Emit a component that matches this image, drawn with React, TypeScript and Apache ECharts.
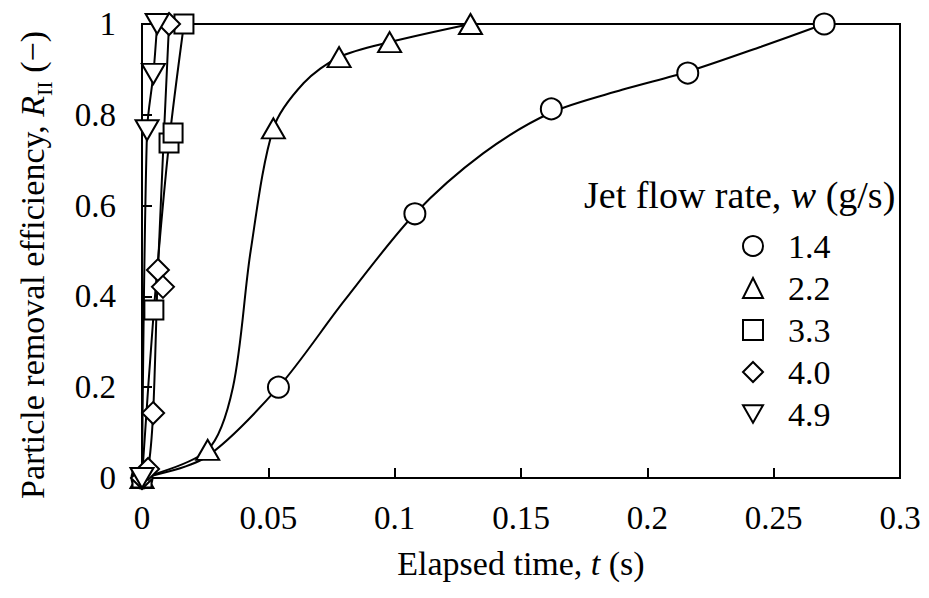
import React, { useEffect, useRef } from 'react';
import * as echarts from 'echarts';

// Jet flow rate w (g/s) series names
const SERIES_NAMES = ['1.4', '2.2', '3.3', '4.0', '4.9'];
// [t (s), R_II (-)] measured points
const W14: number[][] = [[0, 0], [0.054, 0.2], [0.108, 0.582], [0.162, 0.813], [0.216, 0.892], [0.27, 1.0]];
const W22: number[][] = [[0, 0], [0.026, 0.062], [0.052, 0.77], [0.078, 0.927], [0.098, 0.96], [0.13, 1.0]];
const W33: number[][] = [[0, 0], [0.0047, 0.37], [0.0107, 0.738], [0.0123, 0.76], [0.0166, 1.0]];
const W40: number[][] = [[0, 0], [0.0024, 0.02], [0.0044, 0.143], [0.0063, 0.458], [0.0083, 0.421], [0.0107, 1.0]];
const W49: number[][] = [[0, 0], [0.002, 0.766], [0.0045, 0.89], [0.006, 1.0]];
// fitted curves drawn through the points
const FIT14: number[][] = [[0, 0], [0.025, 0.045], [0.054, 0.2], [0.08, 0.39], [0.108, 0.582], [0.135, 0.715], [0.162, 0.805], [0.19, 0.855], [0.216, 0.895], [0.245, 0.95], [0.27, 1.0]];
const FIT22: number[][] = [[0, 0], [0.026, 0.062], [0.036, 0.2], [0.043, 0.5], [0.052, 0.77], [0.064, 0.87], [0.078, 0.927], [0.098, 0.96], [0.13, 1.0]];
const FIT33: number[][] = [[0, 0], [0.0047, 0.37], [0.0107, 0.738], [0.0166, 1.0]];
const FIT40: number[][] = [[0, 0], [0.0024, 0.02], [0.0044, 0.143], [0.0063, 0.458], [0.0107, 1.0]];
const FIT49 = W49;

const X_MIN = 0, X_MAX = 0.3, X_STEP = 0.05;
const Y_MIN = 0, Y_MAX = 1, Y_STEP = 0.2;

const FONT = 'Liberation Serif, Tinos, Times New Roman, serif';
const FS = 34;
const DOWN_TRI = 'path://M0,0 L2,0 L1,1.732 Z';

export default function App() {
  const ref = useRef<HTMLDivElement>(null);
  useEffect(() => {
    if (!ref.current) return;
    const chart = echarts.init(ref.current, undefined, { renderer: 'svg' });
    const pts = [W14, W22, W33, W40, W49];
    const fits = [FIT14, FIT22, FIT33, FIT40, FIT49];
    const symbols = ['circle', 'triangle', 'rect', 'diamond', DOWN_TRI];
    const sizes: any[] = [21, [23, 20], 19, [22, 22], [23, 20]];
    const lineSeries = fits.map((d) => ({
      type: 'line',
      data: d,
      smooth: 0.3,
      showSymbol: false,
      silent: true,
      lineStyle: { color: '#000', width: 2 },
      z: 2,
    }));
    const scatterSeries = pts.map((d, i) => ({
      type: 'scatter',
      name: SERIES_NAMES[i],
      data: d,
      symbol: symbols[i],
      symbolSize: sizes[i],
      itemStyle: { color: '#fff', borderColor: '#000', borderWidth: 2, opacity: 1 },
      z: 3,
    }));
    chart.setOption({
      animation: false,
      backgroundColor: '#fff',
      textStyle: { fontFamily: FONT },
      grid: { left: 142, top: 24, right: 29, bottom: 120, show: true, borderColor: '#000', borderWidth: 2, backgroundColor: 'transparent' },
      xAxis: {
        type: 'value', min: X_MIN, max: X_MAX, interval: X_STEP,
        name: '{a|Elapsed time, }{i|t}{a| (s)}',
        nameLocation: 'middle', nameGap: 68,
        nameTextStyle: { rich: { a: { fontFamily: FONT, fontSize: FS, color: '#000' }, i: { fontFamily: FONT, fontSize: FS, fontStyle: 'italic', color: '#000' } } },
        axisLine: { lineStyle: { color: '#000', width: 2 } },
        axisTick: { inside: true, length: 10, lineStyle: { color: '#000', width: 2 } },
        axisLabel: { color: '#000', fontFamily: FONT, fontSize: 33, margin: 23 },
        splitLine: { show: false },
      },
      yAxis: {
        type: 'value', min: Y_MIN, max: Y_MAX, interval: Y_STEP,
        axisLine: { lineStyle: { color: '#000', width: 2 } },
        axisTick: { inside: true, length: 10, lineStyle: { color: '#000', width: 2 } },
        axisLabel: { color: '#000', fontFamily: FONT, fontSize: 33, margin: 26 },
        splitLine: { show: false },
      },
      legend: {
        orient: 'vertical',
        left: 737, top: 224,
        itemWidth: 20, itemHeight: 20, itemGap: 8,
        data: SERIES_NAMES,
        textStyle: { fontFamily: FONT, fontSize: FS, color: '#000', lineHeight: 32, padding: [0, 0, 0, 20] },
        selectedMode: false,
      },
      graphic: [
        {
          type: 'text', left: 584, top: 176,
          style: {
            text: '{a|Jet flow rate, }{i|w}{a| (g/s)}',
            rich: { a: { fontFamily: FONT, fontSize: 38, fill: '#000' }, i: { fontFamily: FONT, fontSize: 38, fontStyle: 'italic', fill: '#000' } },
          },
        },
        {
          type: 'text', x: 32, y: 265, rotation: Math.PI / 2,
          style: {
            text: '{a|Particle removal efficiency, }{i|R}{s|II}{a| (−)}',
            align: 'center', verticalAlign: 'middle',
            rich: {
              a: { fontFamily: FONT, fontSize: FS, fill: '#000', lineHeight: 38, verticalAlign: 'middle' },
              i: { fontFamily: FONT, fontSize: FS, fontStyle: 'italic', fill: '#000', lineHeight: 38, verticalAlign: 'middle' },
              s: { fontFamily: FONT, fontSize: 22, fill: '#000', lineHeight: 38, verticalAlign: 'bottom', padding: [0, 0, -4, 0] },
            },
          },
        },
      ],
      series: [...lineSeries, ...scatterSeries],
    });
    return () => chart.dispose();
  }, []);
  return <div ref={ref} style={{ position: 'fixed', left: 0, top: 0, width: 929, height: 598 }} />;
}
